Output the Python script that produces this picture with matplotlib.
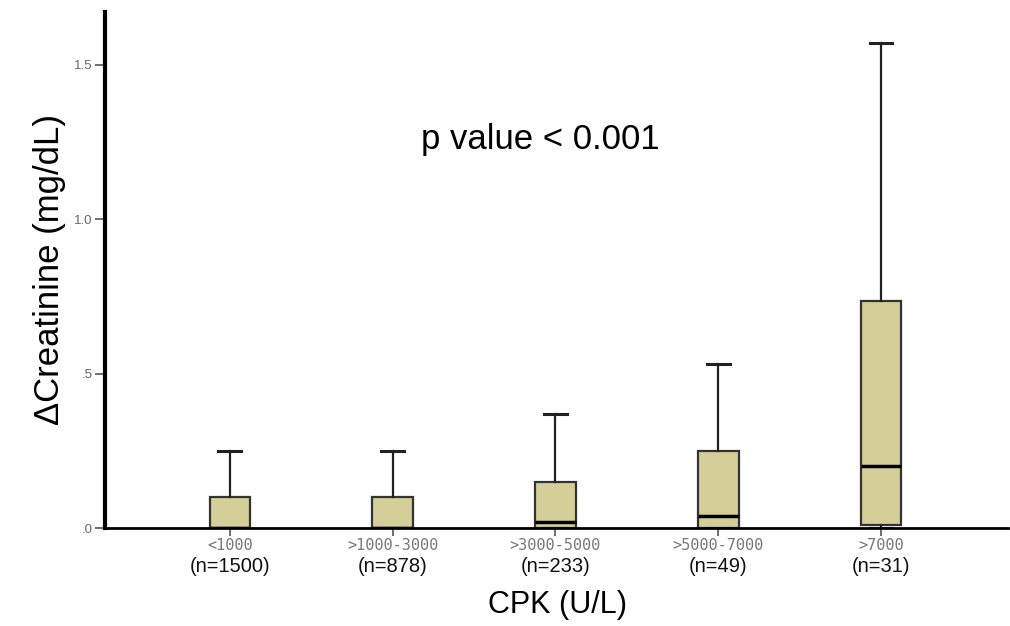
import matplotlib
matplotlib.use('Agg')
import matplotlib.pyplot as plt
import matplotlib.transforms as mtransforms

# Box summaries (mg/dL)
groups = ['<1000', '>1000-3000', '>3000-5000', '>5000-7000', '>7000']
counts = ['(n=1500)', '(n=878)', '(n=233)', '(n=49)', '(n=31)']
q1 = [0.0, 0.0, 0.0, 0.0, 0.01]
median = [0.0, 0.0, 0.02, 0.04, 0.20]
q3 = [0.10, 0.10, 0.15, 0.25, 0.735]
whis_hi = [0.25, 0.25, 0.37, 0.53, 1.57]
whis_lo = [0.0, 0.0, 0.0, 0.0, 0.0]

plt.rcParams['font.family'] = ['Liberation Sans', 'DejaVu Sans']

fig = plt.figure(figsize=(10.1, 6.26), dpi=100)
ax = fig.add_axes([0.104, 0.1565, 0.894, 0.8245])

stats = []
for i in range(len(groups)):
    stats.append(dict(med=median[i], q1=q1[i], q3=q3[i],
                      whislo=whis_lo[i], whishi=whis_hi[i], fliers=[]))

positions = list(range(1, len(groups) + 1))
box = ax.bxp(stats, positions=positions, widths=0.25, patch_artist=True,
             showfliers=False,
             boxprops=dict(facecolor='#d4cf98', edgecolor='#333333', linewidth=1.6),
             medianprops=dict(color='black', linewidth=2.5),
             whiskerprops=dict(color='#222222', linewidth=1.6),
             capprops=dict(color='#222222', linewidth=2.2),
             capwidths=0.14)

ax.set_xlim(0.233, 5.78)
ax.set_ylim(0, 1.671)

for side in ['top', 'right']:
    ax.spines[side].set_visible(False)
ax.spines['left'].set_linewidth(3)
ax.spines['bottom'].set_linewidth(2)

ax.set_yticks([0, 0.5, 1.0, 1.5])
ax.set_yticklabels(['.0', '.5', '1.0', '1.5'])
ax.tick_params(axis='y', length=7, width=1.2, color='#555555', labelsize=9.5,
               labelcolor='#666666', pad=2)

ax.set_xticks(positions)
ax.set_xticklabels(groups)
ax.tick_params(axis='x', length=6, width=1.2, color='#555555', labelsize=11,
               labelcolor='#777777', pad=1.5)
for lab in ax.get_xticklabels():
    lab.set_family('DejaVu Sans Mono')

trans = mtransforms.blended_transform_factory(ax.transData, fig.transFigure)
for x, n in zip(positions, counts):
    ax.text(x, 1 - 567 / 626, n, transform=trans, ha='center', va='center',
            fontsize=14.5, color='#111111')

ax.set_ylabel('ΔCreatinine (mg/dL)', fontsize=25, labelpad=6)
fig.text(558 / 1010, 1 - 605 / 626, 'CPK (U/L)', ha='center', va='center', fontsize=22)
fig.text(540 / 1010, 1 - 140 / 626, 'p value < 0.001', ha='center', va='center', fontsize=25)

fig.savefig('out.png', dpi=100)
